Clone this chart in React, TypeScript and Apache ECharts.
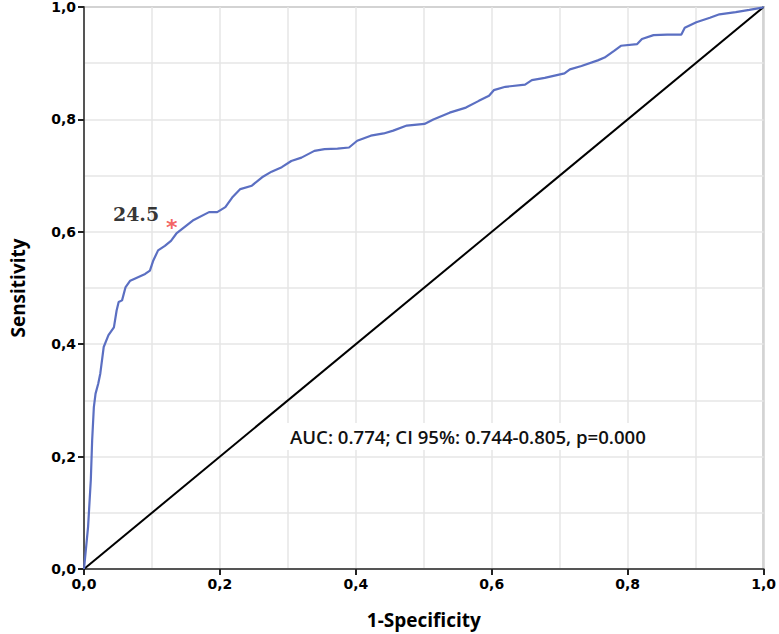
import React, { useEffect, useRef } from "react";
import * as echarts from "echarts";

const rocFpr = [
  0, 0.006, 0.010, 0.012, 0.0145, 0.017, 0.021, 0.024, 0.029, 0.036, 0.044, 0.048, 0.051, 0.056,
  0.061, 0.068, 0.077, 0.090, 0.097, 0.102, 0.109, 0.119, 0.128, 0.136, 0.160, 0.184, 0.196,
  0.208, 0.218, 0.230, 0.247, 0.262, 0.276, 0.291, 0.305, 0.320, 0.339, 0.354, 0.373, 0.390,
  0.402, 0.422, 0.441, 0.455, 0.475, 0.501, 0.514, 0.538, 0.562, 0.581, 0.596, 0.603, 0.620,
  0.649, 0.659, 0.678, 0.707, 0.715, 0.732, 0.756, 0.766, 0.780, 0.790, 0.814, 0.821, 0.838,
  0.858, 0.879, 0.884, 0.901, 0.921, 0.935, 0.959, 0.979, 0.998, 1,
];
const rocTpr = [
  0, 0.075, 0.158, 0.229, 0.288, 0.312, 0.330, 0.348, 0.395, 0.416, 0.430, 0.460, 0.475, 0.478,
  0.501, 0.513, 0.518, 0.525, 0.531, 0.549, 0.567, 0.575, 0.584, 0.597, 0.620, 0.635, 0.635,
  0.644, 0.661, 0.676, 0.682, 0.697, 0.707, 0.715, 0.726, 0.732, 0.744, 0.747, 0.748, 0.750,
  0.762, 0.771, 0.775, 0.780, 0.789, 0.792, 0.800, 0.812, 0.821, 0.833, 0.842, 0.852, 0.858,
  0.862, 0.870, 0.874, 0.882, 0.889, 0.895, 0.905, 0.910, 0.922, 0.931, 0.934, 0.943, 0.950,
  0.951, 0.951, 0.963, 0.973, 0.981, 0.987, 0.991, 0.995, 0.999, 1,
];
const referenceLine = [
  [0, 0],
  [1, 1],
];
const cutoffPoint = [0.132, 0.613];
const cutoffLabel = "24.5";
const aucText = "AUC: 0.774; CI 95%: 0.744-0.805, p=0.000";
const xAxisTitle = "1-Specificity";
const yAxisTitle = "Sensitivity";

const fmt = (v: number) => v.toFixed(1).replace(".", ",");

export default function App() {
  const ref = useRef<HTMLDivElement>(null);
  useEffect(() => {
    if (!ref.current) return;
    const chart = echarts.init(ref.current, null, { renderer: "svg" });
    const axisLabel = {
      color: "#000",
      fontFamily: "DejaVu Sans",
      fontWeight: "bold" as const,
      fontSize: 14,
      formatter: (v: number) => fmt(v),
    };
    const gridColor = "#e6e6e6";
    const titleStyle = { fontFamily: "Open Sans", fontWeight: "bold" as const, fontSize: 19, color: "#000" };
    chart.setOption({
      animation: false,
      backgroundColor: "#fff",
      grid: {
        left: 80,
        right: 10,
        top: 7,
        bottom: 65,
        show: true,
        borderColor: "#9a9a9a",
        borderWidth: 2,
        backgroundColor: "transparent",
      },
      xAxis: {
        type: "value",
        min: 0,
        max: 1,
        interval: 0.2,
        name: xAxisTitle,
        nameLocation: "middle",
        nameGap: 41,
        nameTextStyle: titleStyle,
        axisLine: { lineStyle: { color: "#555", width: 2 } },
        axisTick: { show: true, length: 6, lineStyle: { color: "#222", width: 2 } },
        axisLabel: { ...axisLabel, margin: 8 },
        splitLine: { show: true, lineStyle: { color: gridColor, width: 1.5 } },
        minorTick: { show: false, splitNumber: 2 },
        minorSplitLine: { show: true, lineStyle: { color: gridColor, width: 1.5 } },
      },
      yAxis: {
        type: "value",
        min: 0,
        max: 1,
        interval: 0.2,
        name: yAxisTitle,
        nameLocation: "middle",
        nameGap: 57,
        nameTextStyle: titleStyle,
        axisLine: { lineStyle: { color: "#555", width: 2 } },
        axisTick: { show: true, length: 6, lineStyle: { color: "#222", width: 2 } },
        axisLabel: { ...axisLabel, margin: 8 },
        splitLine: { show: true, lineStyle: { color: gridColor, width: 1.5 } },
        minorTick: { show: false, splitNumber: 2 },
        minorSplitLine: { show: true, lineStyle: { color: gridColor, width: 1.5 } },
      },
      graphic: [
        {
          type: "text",
          left: 284,
          top: 423,
          z: 10,
          style: {
            text: aucText,
            fontFamily: "Open Sans",
            fontWeight: 600,
            fontSize: 18.6,
            fill: "#111",
            backgroundColor: "#fff",
            padding: [4, 6, 4, 6],
          },
        },
      ],
      series: [
        {
          type: "line",
          data: referenceLine,
          symbol: "none",
          lineStyle: { color: "#000", width: 2 },
          z: 3,
        },
        {
          type: "line",
          data: rocFpr.map((x, i) => [x, rocTpr[i]]),
          symbol: "none",
          lineStyle: { color: "#5b6fc2", width: 2.2 },
          z: 4,
        },
        {
          type: "scatter",
          data: [cutoffPoint],
          symbolSize: 1,
          itemStyle: { color: "transparent" },
          z: 5,
          label: {
            show: true,
            position: "inside",
            formatter: "*",
            color: "#f03c3c",
            fontFamily: "DejaVu Sans",
            fontWeight: "bold",
            fontSize: 22,
            offset: [-2, 3],
          },
        },
        {
          type: "scatter",
          data: [cutoffPoint],
          symbolSize: 1,
          itemStyle: { color: "transparent" },
          z: 5,
          label: {
            show: true,
            position: "left",
            distance: 14,
            formatter: cutoffLabel,
            color: "#000",
            fontFamily: "DejaVu Serif",
            fontWeight: "bold",
            fontSize: 19,
            offset: [0, -10],
          },
        },
      ],
    });
    return () => chart.dispose();
  }, []);
  return <div ref={ref} style={{ width: 779, height: 634, position: "absolute", left: 0, top: 0 }} />;
}
